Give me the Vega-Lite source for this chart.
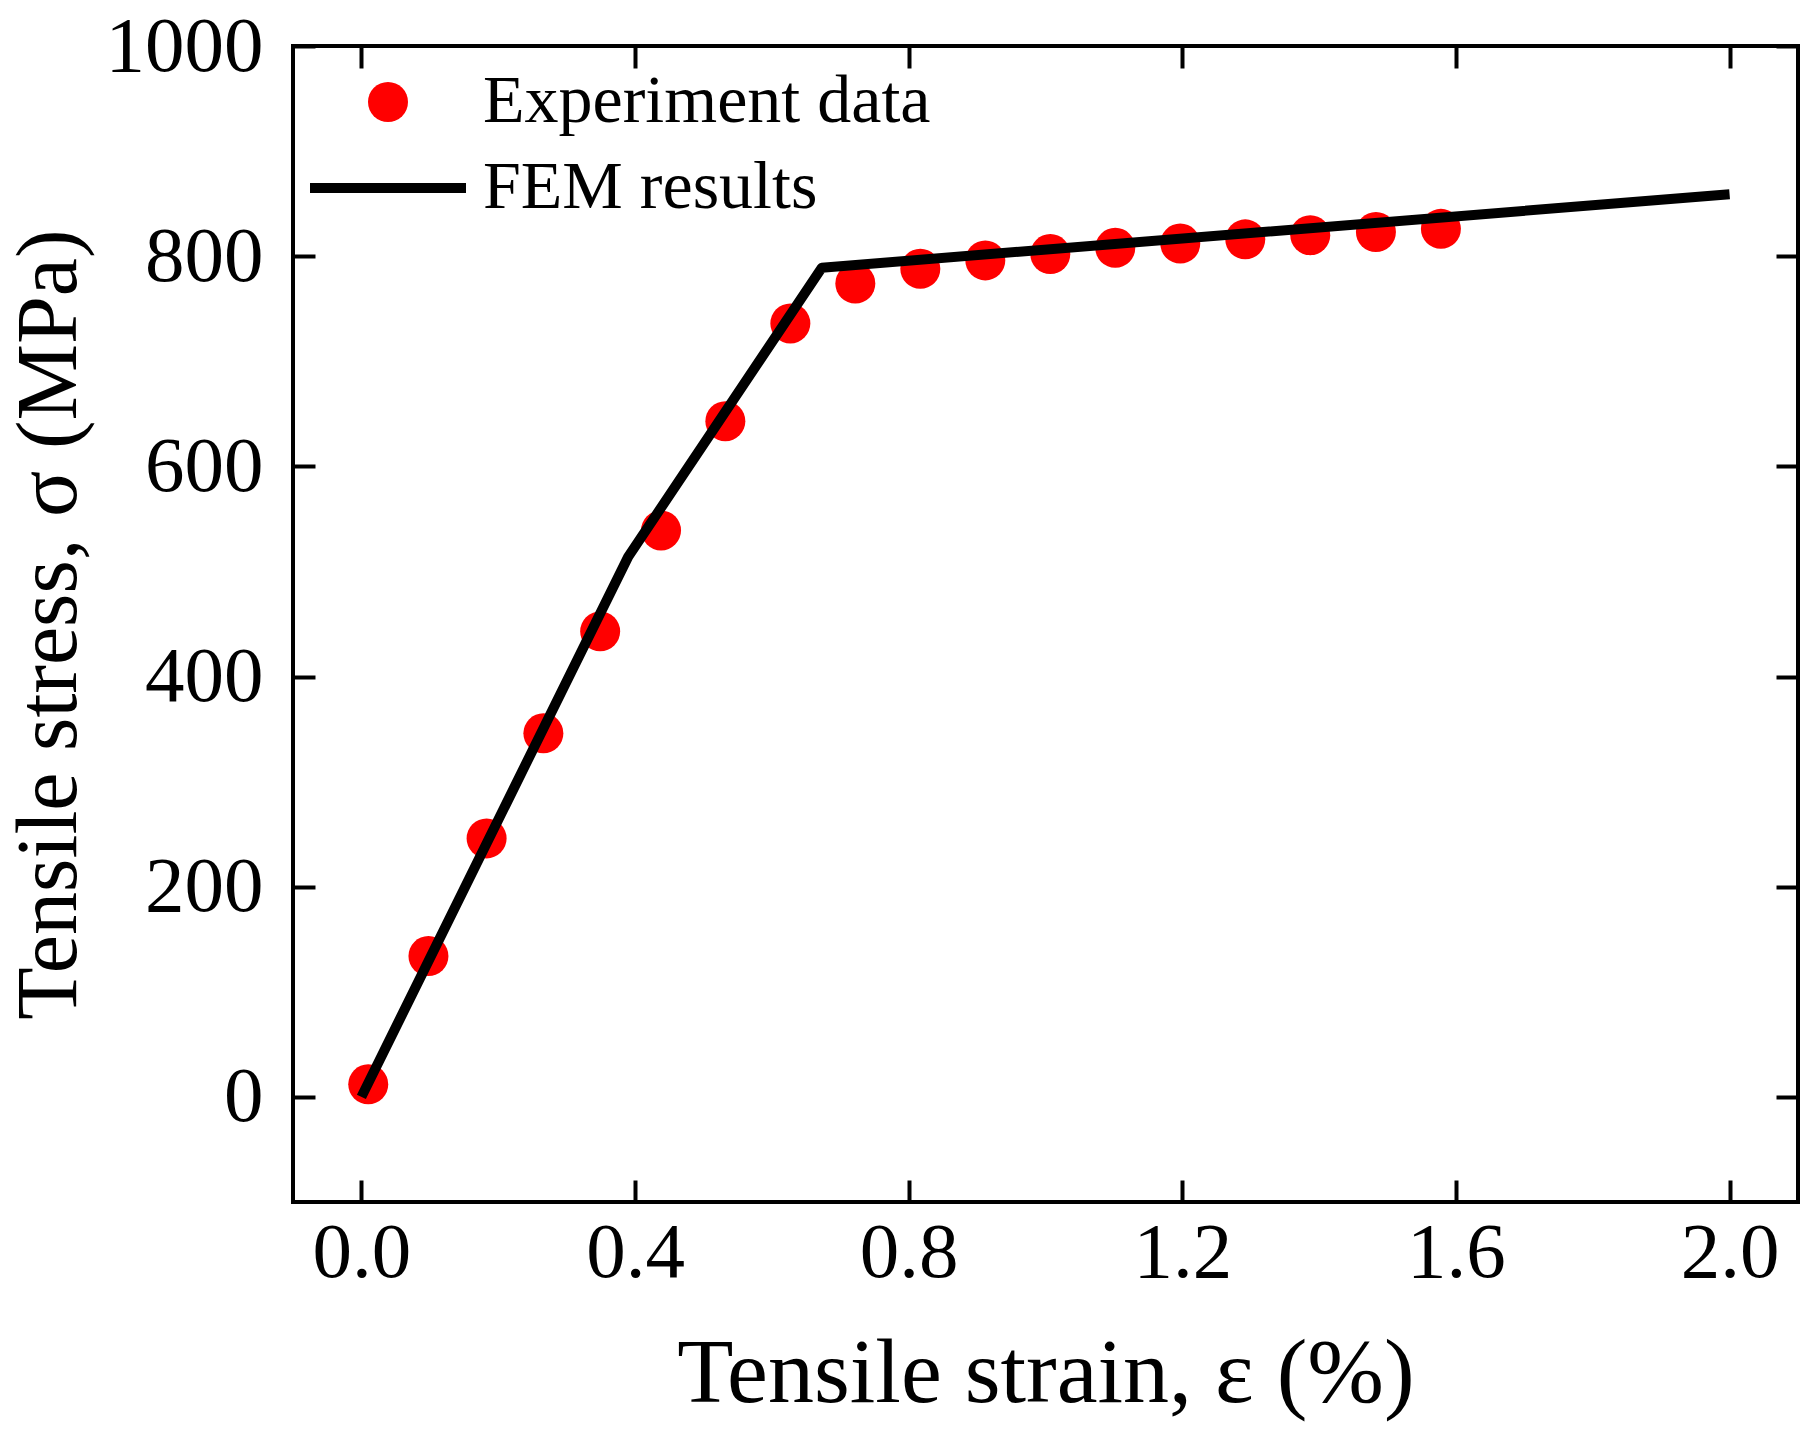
{
  "$schema": "https://vega.github.io/schema/vega-lite/v6.json",
  "width": 1505,
  "height": 1156,
  "autosize": {"type": "none"},
  "padding": {"left": 293, "top": 46, "right": 18, "bottom": 242},
  "datasets": {
    "experiment": [
      {"strain": 0.01, "stress": 12, "series": "Experiment data"},
      {"strain": 0.098, "stress": 134, "series": "Experiment data"},
      {"strain": 0.183, "stress": 246, "series": "Experiment data"},
      {"strain": 0.266, "stress": 346, "series": "Experiment data"},
      {"strain": 0.349, "stress": 443, "series": "Experiment data"},
      {"strain": 0.438, "stress": 539, "series": "Experiment data"},
      {"strain": 0.532, "stress": 643, "series": "Experiment data"},
      {"strain": 0.627, "stress": 736, "series": "Experiment data"},
      {"strain": 0.722, "stress": 774, "series": "Experiment data"},
      {"strain": 0.817, "stress": 788, "series": "Experiment data"},
      {"strain": 0.912, "stress": 796, "series": "Experiment data"},
      {"strain": 1.007, "stress": 802, "series": "Experiment data"},
      {"strain": 1.102, "stress": 808, "series": "Experiment data"},
      {"strain": 1.197, "stress": 812, "series": "Experiment data"},
      {"strain": 1.292, "stress": 816, "series": "Experiment data"},
      {"strain": 1.387, "stress": 820, "series": "Experiment data"},
      {"strain": 1.483, "stress": 823, "series": "Experiment data"},
      {"strain": 1.578, "stress": 826, "series": "Experiment data"}
    ],
    "fem": [
      {"strain": 0.0, "stress": 0, "series": "FEM results"},
      {"strain": 0.39, "stress": 514, "series": "FEM results"},
      {"strain": 0.673, "stress": 789, "series": "FEM results"},
      {"strain": 2.0, "stress": 859, "series": "FEM results"}
    ]
  },
  "config": {
    "font": "Liberation Serif",
    "view": {"stroke": "#000000", "strokeWidth": 4},
    "axis": {
      "domain": false,
      "grid": false,
      "tickColor": "#000000",
      "tickWidth": 4,
      "tickSize": -22,
      "labelFont": "Liberation Serif",
      "labelFontSize": 79,
      "labelColor": "#000000",
      "labelFlush": false,
      "labelOverlap": false,
      "titleFont": "Liberation Serif",
      "titleFontWeight": "normal",
      "titleColor": "#000000"
    },
    "legend": {
      "orient": "none",
      "legendX": 61,
      "legendY": 22,
      "padding": 0,
      "labelFont": "Liberation Serif",
      "labelFontSize": 68,
      "labelColor": "#000000",
      "labelLimit": 0,
      "symbolSize": 1600,
      "labelOffset": 61,
      "rowPadding": 18
    }
  },
  "resolve": {"axis": {"x": "independent", "y": "independent"}},
  "layer": [
    {
      "data": {"name": "experiment"},
      "mark": {"type": "point", "filled": true, "size": 1600, "opacity": 1},
      "encoding": {
        "x": {
          "field": "strain",
          "type": "quantitative",
          "scale": {"domain": [-0.1, 2.1], "nice": false, "zero": false},
          "axis": {"orient": "top", "values": [0, 0.4, 0.8, 1.2, 1.6, 2.0], "labels": false, "title": null}
        },
        "y": {
          "field": "stress",
          "type": "quantitative",
          "scale": {"domain": [-100, 1000], "nice": false, "zero": false},
          "axis": {"orient": "right", "values": [0, 200, 400, 600, 800, 1000], "labels": false, "title": null}
        },
        "color": {
          "field": "series",
          "type": "nominal",
          "scale": {"domain": ["Experiment data", "FEM results"], "range": ["#ff0000", "#000000"]},
          "legend": {
            "title": null,
            "encode": {
              "symbols": {
                "update": {
                  "shape": {"signal": "datum.value === 'FEM results' ? 'stroke' : 'circle'"},
                  "size": {"signal": "datum.value === 'FEM results' ? 24336 : 1600"},
                  "strokeWidth": {"signal": "datum.value === 'FEM results' ? 10 : 0"},
                  "fill": {"signal": "datum.value === 'FEM results' ? 'transparent' : '#ff0000'"},
                  "stroke": {"signal": "datum.value === 'FEM results' ? '#000000' : 'transparent'"},
                  "opacity": {"value": 1}
                }
              }
            }
          }
        }
      }
    },
    {
      "data": {"name": "fem"},
      "mark": {"type": "line", "strokeWidth": 10, "strokeJoin": "round", "strokeCap": "butt"},
      "encoding": {
        "x": {
          "field": "strain",
          "type": "quantitative",
          "axis": {"orient": "bottom", "values": [0, 0.4, 0.8, 1.2, 1.6, 2.0], "format": ".1f", "title": "Tensile strain, ε (%)", "titleFontSize": 92, "labelPadding": 34, "titlePadding": 36}
        },
        "y": {
          "field": "stress",
          "type": "quantitative",
          "axis": {"orient": "left", "values": [0, 200, 400, 600, 800, 1000], "format": "d", "title": "Tensile stress, σ (MPa)", "titleFontSize": 86, "labelPadding": 52, "titlePadding": 12}
        },
        "color": {
          "field": "series",
          "type": "nominal",
          "legend": {
            "title": null,
            "encode": {
              "symbols": {
                "update": {
                  "shape": {"signal": "datum.value === 'FEM results' ? 'stroke' : 'circle'"},
                  "size": {"signal": "datum.value === 'FEM results' ? 24336 : 1600"},
                  "strokeWidth": {"signal": "datum.value === 'FEM results' ? 10 : 0"},
                  "fill": {"signal": "datum.value === 'FEM results' ? 'transparent' : '#ff0000'"},
                  "stroke": {"signal": "datum.value === 'FEM results' ? '#000000' : 'transparent'"},
                  "opacity": {"value": 1}
                }
              }
            }
          }
        }
      }
    }
  ]
}
